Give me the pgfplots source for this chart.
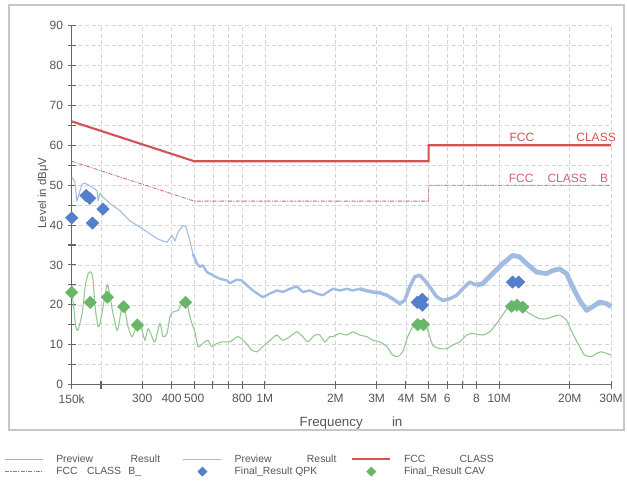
\documentclass[border=0pt]{standalone}
\usepackage{fontspec}
\setmainfont{Liberation Sans}
\usepackage{pgfplots}
\pgfplotsset{compat=1.18}
\definecolor{greenprev}{RGB}{145,200,145}
\definecolor{blueprev}{RGB}{160,188,226}
\definecolor{fccred}{RGB}{212,82,84}
\definecolor{fccpink}{RGB}{205,95,135}
\definecolor{qpk}{RGB}{84,128,202}
\definecolor{cav}{RGB}{104,182,104}
\definecolor{txt}{RGB}{85,85,85}
\pgfplotsset{
  lineleg/.style={legend image code/.code={\draw[##1] (0cm,0cm) -- (1cm,0cm);}},
  markleg/.style={legend image code/.code={\draw[##1, mark size=3.4pt] plot coordinates {(0.5cm,0cm)};}},
}
\begin{document}
\begin{tikzpicture}
\path[use as bounding box] (-53.775pt,-75.375pt) rectangle (416.475pt,288.375pt);
\draw[black!22, line width=0.8pt] (-47.0pt,284.6pt) rectangle (414.2pt,-34.1pt);
\begin{axis}[
  at={(0pt,0pt)}, anchor=south west,
  scale only axis, width=404.5pt, height=269.1pt,
  xmode=log, xmin=0.15, xmax=30, ymin=0, ymax=90,
  clip=false,
  axis x line*=bottom, axis y line*=left,
  axis line style={-, black!60, line width=0.9pt},
  xtick={0.15,0.2,0.3,0.4,0.5,0.6,0.7,0.8,1,2,3,4,5,6,7,8,10,20,30},
  xticklabels={150k,,300,400,500,,,800,1M,2M,3M,4M,5M,6,,8,10M,20M,30M},
  ytick={0,10,20,30,40,50,60,70,80,90},
  yticklabels={0,10,20,30,40,50,60,70,80,90},
  minor ytick={5,15,25,35,45,55,65,75,85},
  grid=both,
  major grid style={densely dashed, black!17, line width=0.4pt},
  minor grid style={densely dashed, black!17, line width=0.4pt},
  tick align=center, major tick length=6pt, minor tick length=6pt,
  every tick/.style={black!60, line width=0.8pt},
  tick label style={font=\fontsize{9}{10}\selectfont, text=txt},
  xticklabel style={yshift=-1pt},
  ylabel={Level in dBμV},
  ylabel style={at={(axis description cs:-0.053,0.534)}, anchor=center, font=\fontsize{8.6}{10}\selectfont, text=txt},
  xlabel={Frequency\hspace{2.2em}in},
  xlabel style={at={(axis description cs:0.518,-0.107)}, anchor=center, font=\fontsize{10}{12}\selectfont, text=txt},
  legend columns=3,
  legend cell align=left,
  legend style={at={(-0.1249,-0.191)}, anchor=north west, draw=none, fill=none,
    font=\fontsize{7.8}{9.4}\selectfont, text=txt, inner sep=0pt,
    row sep=0pt, column sep=0pt, nodes={inner xsep=5pt, inner ysep=1pt},
    /tikz/every odd column/.append style={column sep=4.5pt}},
  lineleg,
]
% AV preview (green)
\addplot[greenprev, line width=0.8pt, smooth, tension=0.4] coordinates {
(0.15,23.6) (0.1529,19.5) (0.1562,14.5) (0.1594,13.6) (0.1662,17.8) (0.1712,24.5) (0.1764,27.8) (0.1815,28.2) (0.1851,26.1) (0.1887,19.5) (0.1944,14.5) (0.1982,15.3) (0.2041,19.5) (0.2124,24.9) (0.2165,23.6) (0.2251,17.8) (0.2342,13.6) (0.2387,15.3) (0.2459,19.5) (0.2532,18.6) (0.2609,14.5) (0.2712,12) (0.2793,13.6) (0.2877,15.3) (0.2992,13.6) (0.3082,11.1) (0.3174,14) (0.3300,12) (0.3399,10.7) (0.3570,15.3) (0.3677,12) (0.3825,12.8) (0.3938,17) (0.4056,18.2) (0.4261,18.6) (0.4474,20.7) (0.4655,20.3) (0.4792,17) (0.4935,14.5) (0.5034,13.2) (0.5186,9.5) (0.5444,10.3) (0.5718,11.1) (0.5945,9.5) (0.6245,10.3) (0.6624,10.7) (0.7095,10.7) (0.7674,12) (0.8217,10.7) (0.8804,8.6) (0.9248,8.2) (0.9808,9.5) (1.050,11) (1.125,12.4) (1.193,11.1) (1.278,12) (1.369,13.2) (1.452,12) (1.525,10.7) (1.633,12.4) (1.716,12.4) (1.802,10.7) (1.893,12) (1.950,12) (2.088,12.8) (2.237,12.4) (2.372,13.2) (2.541,12.4) (2.722,12) (2.887,11.1) (3.092,10.7) (3.313,9.5) (3.513,7.4) (3.692,7) (3.875,8.2) (4.071,12) (4.275,14.5) (4.491,16.1) (4.716,15.7) (4.954,13.6) (5.203,9.9) (5.573,9) (5.97,9) (6.332,9.9) (6.782,10.7) (7.265,12.4) (7.705,12.8) (8.500,12.4) (9.104,13.2) (9.752,15.3) (10.34,17.4) (11.08,19.9) (11.87,20.3) (12.59,19) (13.48,17.8) (14.87,16.5) (15.93,16.5) (16.90,17) (18.10,17.4) (19.39,16.1) (20.57,12.8) (22.03,9.5) (23.1,7.4) (24.8,7) (26.03,7.8) (27.3,8.2) (28.71,7.8) (30,7.4)
};
\addlegendentry{\makebox[90pt][l]{Preview\hspace{3.6em}Result}}
% QP preview (blue), segment 1 (thin)
\addplot[blueprev, line width=0.8pt, line join=round] coordinates {
(0.15,52) (0.1547,51) (0.1578,46) (0.1662,50.3) (0.1712,50.5) (0.1833,49.5) (0.1925,48.6) (0.1944,46) (0.1982,48) (0.2041,47) (0.2186,45.4) (0.2411,43.6) (0.2659,41) (0.2934,39.5) (0.3236,37.8) (0.3467,36.6) (0.3677,36) (0.3825,35.7) (0.4017,37.4) (0.4136,36) (0.4261,38.2) (0.4474,39.9) (0.4609,39.5) (0.4792,36) (0.4935,32.8)
};
\addlegendentry{\makebox[82.5pt][l]{Preview\hspace{3.4em}Result}}
\addplot[forget plot, blueprev, line width=1.8pt, line join=round] coordinates {
(0.4935,32.8) (0.5135,30.3) (0.5286,29.5) (0.5444,29.9) (0.5661,28.2) (0.6005,27.4) (0.6432,26.5) (0.6889,26.1) (0.7095,25.4) (0.7599,26.3) (0.798,26.1) (0.8382,24.9) (0.8891,23.6) (0.9523,22.4) (0.9808,21.9) (1.050,22.8) (1.125,23.6) (1.193,23.2) (1.278,24.0) (1.369,24.6) (1.452,23.2) (1.555,23.6) (1.667,22.8) (1.767,22.4) (1.856,23.2) (1.950,24.0) (2.088,23.6) (2.237,24.0) (2.372,23.6) (2.541,24.0)
};
\addplot[forget plot, blueprev, line width=2.6pt, line join=round] coordinates {
(2.541,24.0) (2.722,23.5) (2.887,23.2) (3.092,23.0) (3.313,22.4) (3.513,21.5) (3.763,20.3) (3.952,21.1) (4.151,24.5) (4.360,27) (4.579,27.4) (4.810,26.1) (5.052,24.5) (5.411,22) (5.740,21.1) (6.148,21.5) (6.585,22.4) (6.985,24) (7.481,25.7) (8.013,24.9)
};
\addplot[forget plot, blueprev, line width=3.6pt, line join=round] coordinates {
(8.013,24.9) (8.500,25.3) (9.377,27.8) (10.34,30.3) (11.41,32.4) (12.22,32) (13.09,30.3) (14.44,28.2) (15.93,27.8) (16.90,28.6) (18.10,29) (19.39,27.8) (20.57,24.5) (22.03,21.1) (23.60,18.6) (25.03,19.5) (26.81,20.7) (28.71,20.3) (30,19.5)
};
% FCC QP limit
\addplot[fccred, line width=1.6pt] coordinates {(0.15,66) (0.5,56) (5,56) (5,60) (30,60)};
\addlegendentry{FCC\hspace{3.3em}CLASS}
% FCC AV limit
\addplot[fccpink, line width=0.6pt, dash pattern=on 3pt off 1pt on 0.8pt off 1pt] coordinates {(0.15,56) (0.5,46) (5,46) (5,50) (30,50)};
\addlegendentry{FCC\hspace{0.9em}CLASS\hspace{0.7em}B\_}
% Final QPK
\addplot[only marks, mark=diamond*, mark size=4.6pt, color=qpk, mark options={draw=qpk, fill=qpk, xscale=1.35}, markleg] coordinates {
(0.15,41.8) (0.1727,47.4) (0.179,46.7) (0.184,40.5) (0.204,44.0) (4.47,20.6) (4.70,21.4) (4.70,19.9) (11.4,25.7) (12.1,25.7)
};
\addlegendentry{Final\_Result QPK}
% Final CAV
\addplot[only marks, mark=diamond*, mark size=4.6pt, color=cav, mark options={draw=cav, fill=cav, xscale=1.35}, markleg] coordinates {
(0.15,23.1) (0.180,20.6) (0.213,21.9) (0.250,19.5) (0.286,14.9) (0.459,20.6) (4.49,15.0) (4.75,15.0) (11.3,19.6) (11.9,19.9) (12.6,19.4)
};
\addlegendentry{Final\_Result CAV}
% limit labels
\node[text=fccred, font=\fontsize{9}{10}\selectfont] at (axis cs:12.5,61.9) {FCC};
\node[text=fccred, font=\fontsize{9}{10}\selectfont] at (axis cs:25.9,61.9) {CLASS};
\node[text=fccpink, font=\fontsize{9}{10}\selectfont] at (axis cs:12.4,51.8) {FCC};
\node[text=fccpink, font=\fontsize{9}{10}\selectfont] at (axis cs:19.5,51.8) {CLASS};
\node[text=fccpink, font=\fontsize{9}{10}\selectfont] at (axis cs:28.0,51.8) {B};
\end{axis}
\end{tikzpicture}
\end{document}
